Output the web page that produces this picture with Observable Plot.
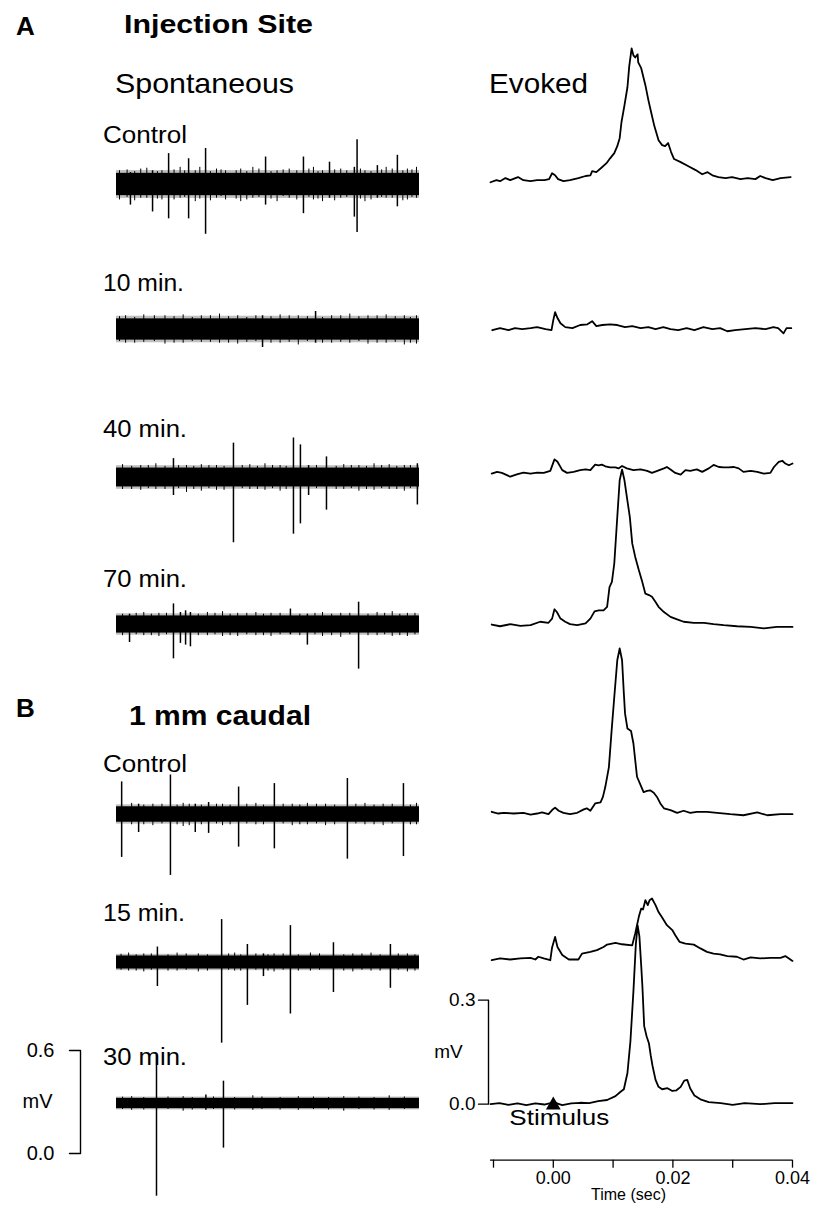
<!DOCTYPE html>
<html><head><meta charset="utf-8">
<script src="https://cdn.jsdelivr.net/npm/d3@7"></script>
<script src="https://cdn.jsdelivr.net/npm/@observablehq/plot@0.6"></script>
<style>
body{margin:0;background:#fff;}
#fig{position:relative;width:824px;height:1212px;overflow:hidden;background:#fff;font-family:"Liberation Sans",Arial,Helvetica,sans-serif;}
</style></head><body><div id="fig"></div>
<script>
// ---------------- DATA ----------------
const panelLetters = ["A", "B"];
const panelTitles = ["Injection Site", "1 mm caudal"];
const columnTitles = ["Spontaneous", "Evoked"];
const rowLabels = ["Control", "10 min.", "40 min.", "70 min.", "Control", "15 min.", "30 min."];

// spontaneous recordings: duration (s), noise half-amplitude (mV), excursions [t (s), peak (mV), trough (mV)]
const spontDuration = 10;
const spontNoise = [0.065, 0.062, 0.055, 0.05, 0.045, 0.038, 0.03];
const spontControlA = [[0.46,0.07,-0.12],[1.19,0.08,-0.16],[1.72,0.18,-0.2],[2.38,0.15,-0.2],[2.94,0.21,-0.29],[4.92,0.16,-0.12],[6.17,0.16,-0.17],[7.03,0.13,-0.08],[7.85,0.1,-0.19],[7.94,0.26,-0.28],[8.61,0.11,-0.08],[9.27,0.17,-0.13],
  [0.1,0.08,-0.09],[0.8,0.09,-0.08],[1.5,0.08,-0.09],[2.1,0.1,-0.08],[2.6,0.08,-0.1],[3.3,0.09,-0.08],[3.6,0.08,-0.09],[4.1,0.09,-0.1],[4.5,0.1,-0.08],[5.3,0.08,-0.1],[5.7,0.09,-0.08],[6.5,0.1,-0.09],[6.8,0.08,-0.1],[7.4,0.09,-0.08],[8.2,0.08,-0.1],[8.9,0.1,-0.08],[9.6,0.09,-0.09],[9.9,0.1,-0.08],
  [0.35,0.085,-0.075],[0.6,0.075,-0.095],[1.0,0.095,-0.08],[1.35,0.075,-0.085],[1.9,0.085,-0.09],[2.25,0.08,-0.075],[2.75,0.1,-0.085],[3.1,0.075,-0.095],[3.45,0.085,-0.07],[3.95,0.08,-0.085],[4.3,0.075,-0.09],[4.7,0.09,-0.075],[5.1,0.075,-0.085],[5.5,0.085,-0.07],[5.95,0.08,-0.09],[6.35,0.09,-0.075],[6.65,0.075,-0.085],[7.2,0.085,-0.095],[7.6,0.08,-0.075],[8.05,0.09,-0.085],[8.4,0.075,-0.09],[8.75,0.085,-0.075],[9.1,0.09,-0.08],[9.45,0.08,-0.095],[9.75,0.085,-0.075]];
const spont10min = [[4.82,0.08,-0.105],[6.57,0.105,-0.08],
  [0.3,0.08,-0.08],[0.9,0.085,-0.075],[1.6,0.08,-0.085],[2.2,0.085,-0.08],[2.8,0.08,-0.075],[3.4,0.09,-0.08],[4.0,0.08,-0.085],[5.4,0.085,-0.08],[6.0,0.08,-0.09],[7.1,0.08,-0.08],[7.7,0.09,-0.08],[8.3,0.08,-0.085],[8.9,0.085,-0.08],[9.5,0.08,-0.09],[9.9,0.08,-0.085],
  [0.1,0.075,-0.07],[0.6,0.07,-0.08],[1.25,0.08,-0.07],[1.9,0.075,-0.08],[2.5,0.07,-0.07],[3.1,0.08,-0.075],[3.7,0.075,-0.08],[4.3,0.07,-0.075],[4.6,0.08,-0.07],[5.1,0.075,-0.08],[5.7,0.08,-0.075],[6.3,0.075,-0.07],[6.8,0.07,-0.08],[7.4,0.08,-0.075],[8.0,0.075,-0.07],[8.6,0.08,-0.08],[9.2,0.075,-0.075],[9.7,0.07,-0.08]];
const spont40min = [[1.88,0.11,-0.105],[2.31,0.07,-0.087],[3.86,0.2,-0.38],[5.84,0.23,-0.33],[6.07,0.19,-0.27],[6.34,0.07,-0.105],[6.93,0.12,-0.19],[9.93,0.08,-0.16],
  [0.2,0.075,-0.07],[0.8,0.07,-0.075],[1.3,0.08,-0.07],[2.8,0.075,-0.08],[3.3,0.07,-0.075],[4.4,0.075,-0.07],[4.9,0.08,-0.075],[5.4,0.07,-0.08],[7.5,0.075,-0.07],[8.0,0.07,-0.08],[8.5,0.08,-0.075],[9.0,0.075,-0.07],[9.5,0.07,-0.08],
  [0.5,0.065,-0.07],[1.05,0.07,-0.065],[1.6,0.065,-0.07],[2.05,0.07,-0.065],[2.55,0.065,-0.07],[3.05,0.07,-0.065],[3.55,0.065,-0.075],[4.15,0.07,-0.065],[4.65,0.065,-0.07],[5.15,0.07,-0.065],[5.6,0.065,-0.07],[6.6,0.07,-0.065],[7.25,0.065,-0.07],[7.75,0.07,-0.065],[8.25,0.065,-0.07],[8.75,0.07,-0.065],[9.25,0.065,-0.07],[9.7,0.07,-0.065]];
const spont70min = [[0.43,0.06,-0.105],[1.88,0.12,-0.2],[2.11,0.07,-0.11],[2.28,0.08,-0.12],[2.44,0.07,-0.13],[5.74,0.09,-0.06],[6.3,0.06,-0.12],[7.99,0.13,-0.26],
  [0.9,0.07,-0.065],[1.4,0.065,-0.07],[3.0,0.07,-0.065],[3.5,0.075,-0.07],[4.0,0.065,-0.07],[4.6,0.07,-0.065],[5.1,0.065,-0.07],[6.8,0.07,-0.07],[7.4,0.065,-0.075],[8.6,0.07,-0.065],[9.1,0.075,-0.07],[9.6,0.065,-0.07],
  [0.2,0.06,-0.065],[0.65,0.065,-0.06],[1.15,0.06,-0.065],[1.65,0.065,-0.06],[2.7,0.06,-0.065],[3.25,0.065,-0.06],[3.75,0.06,-0.065],[4.3,0.065,-0.06],[4.85,0.06,-0.065],[5.4,0.065,-0.06],[6.05,0.06,-0.065],[6.55,0.065,-0.06],[7.1,0.06,-0.065],[7.7,0.065,-0.06],[8.3,0.06,-0.065],[8.85,0.065,-0.06],[9.35,0.06,-0.065],[9.85,0.065,-0.06]];
const spontControlB = [[0.17,0.19,-0.25],[0.73,0.06,-0.105],[1.78,0.23,-0.355],[2.6,0.06,-0.105],[3.04,0.07,-0.11],[4.03,0.16,-0.19],[5.21,0.18,-0.2],[7.62,0.21,-0.26],[9.47,0.18,-0.245],
  [0.5,0.065,-0.06],[1.2,0.06,-0.065],[2.2,0.065,-0.07],[3.5,0.06,-0.065],[4.6,0.065,-0.06],[5.8,0.06,-0.065],[6.3,0.065,-0.06],[6.9,0.06,-0.065],[8.2,0.065,-0.06],[8.8,0.06,-0.065],[9.9,0.065,-0.06],
  [0.9,0.055,-0.06],[1.5,0.06,-0.055],[2.0,0.055,-0.06],[2.4,0.06,-0.065],[2.8,0.055,-0.06],[3.3,0.06,-0.055],[3.75,0.055,-0.06],[4.3,0.06,-0.055],[4.85,0.055,-0.06],[5.5,0.06,-0.055],[6.05,0.055,-0.06],[6.6,0.06,-0.055],[7.2,0.055,-0.06],[7.9,0.06,-0.055],[8.5,0.055,-0.06],[9.1,0.06,-0.055],[9.7,0.055,-0.06]];
const spont15min = [[1.35,0.09,-0.14],[3.47,0.25,-0.47],[4.32,0.105,-0.25],[4.85,0.05,-0.082],[5.74,0.215,-0.3],[7.16,0.115,-0.175],[9.04,0.105,-0.15],
  [0.4,0.055,-0.05],[0.9,0.05,-0.055],[2.0,0.055,-0.05],[2.7,0.05,-0.055],[3.9,0.055,-0.05],[5.2,0.05,-0.055],[6.4,0.055,-0.05],[7.8,0.05,-0.055],[8.4,0.055,-0.05],[9.6,0.05,-0.055],
  [0.15,0.048,-0.045],[0.65,0.045,-0.05],[1.15,0.05,-0.045],[1.7,0.045,-0.05],[2.3,0.05,-0.045],[3.0,0.045,-0.05],[3.7,0.05,-0.045],[4.1,0.045,-0.05],[4.6,0.05,-0.045],[5.0,0.045,-0.05],[5.5,0.05,-0.045],[6.0,0.045,-0.05],[6.7,0.05,-0.045],[7.5,0.045,-0.05],[8.1,0.05,-0.045],[8.7,0.045,-0.05],[9.3,0.05,-0.045],[9.85,0.045,-0.05]];
const spont30min = [[1.32,0.28,-0.54],[3.53,0.13,-0.26],[2.95,0.05,-0.04],
  [0.5,0.04,-0.04],[2.2,0.04,-0.045],[4.5,0.045,-0.04],[6.0,0.04,-0.04],[7.5,0.04,-0.045],[9.0,0.045,-0.04],
  [0.2,0.037,-0.035],[0.9,0.035,-0.038],[1.7,0.038,-0.035],[2.5,0.035,-0.038],[3.2,0.038,-0.035],[3.9,0.035,-0.038],[4.8,0.038,-0.035],[5.4,0.035,-0.038],[6.5,0.038,-0.035],[7.0,0.035,-0.038],[8.0,0.038,-0.035],[8.5,0.035,-0.038],[9.5,0.038,-0.035]];
const spontSpikes = [spontControlA, spont10min, spont40min, spont70min, spontControlB, spont15min, spont30min];

// evoked responses: [time (s), mV]
const evokedControlA = [[-0.0105,-0.006],[-0.0095,0],[-0.0089,-0.003],[-0.008,0.006],[-0.0072,0],[-0.0059,0.009],[-0.005,0],[-0.0038,-0.003],[-0.0027,0],[-0.0015,0],[-0.0007,0.003],[-0.0002,0.02],[0.0003,0.014],[0.0008,0.003],[0.0017,-0.003],[0.0028,0],[0.0042,0.006],[0.0054,0.012],[0.0062,0.014],[0.0065,0.026],[0.0072,0.023],[0.008,0.035],[0.0089,0.049],[0.0095,0.063],[0.0102,0.078],[0.0107,0.098],[0.0111,0.121],[0.0114,0.167],[0.0119,0.216],[0.0124,0.268],[0.0127,0.329],[0.0131,0.38],[0.0134,0.36],[0.0137,0.354],[0.0141,0.363],[0.0142,0.34],[0.0147,0.323],[0.0154,0.274],[0.0159,0.231],[0.0164,0.193],[0.0169,0.156],[0.0176,0.115],[0.0182,0.101],[0.0187,0.098],[0.0192,0.107],[0.0197,0.081],[0.0202,0.061],[0.0213,0.052],[0.0226,0.04],[0.0238,0.029],[0.0249,0.017],[0.0258,0.023],[0.0266,0.014],[0.0276,0.009],[0.0288,0.006],[0.0299,0.009],[0.0313,0.003],[0.0325,0.006],[0.0338,0.003],[0.0346,0.012],[0.0355,0.006],[0.0367,0],[0.038,0.006],[0.0397,0.009]];
const evoked10min = [[-0.0102,-0.003],[-0.0089,0.003],[-0.0075,-0.003],[-0.0064,0.003],[-0.0052,0],[-0.0038,0.003],[-0.0027,0.006],[-0.0013,0],[-0.0003,-0.003],[0,0.026],[0.0003,0.049],[0.0007,0.032],[0.0012,0.017],[0.002,0.006],[0.0032,0.003],[0.0045,0.012],[0.0057,0.014],[0.0065,0.023],[0.0072,0.009],[0.0082,0.012],[0.0095,0.014],[0.0107,0.012],[0.012,0.006],[0.0132,0.009],[0.0146,0.003],[0.0159,0.006],[0.0171,0],[0.0184,0.006],[0.0196,0],[0.0209,-0.003],[0.0223,0.003],[0.0236,-0.003],[0.0251,0.006],[0.0266,0],[0.0279,0.003],[0.0291,-0.006],[0.0304,-0.003],[0.0321,0],[0.0338,0.003],[0.0355,0],[0.0368,0.006],[0.0376,0.003],[0.0385,-0.012],[0.039,0.003],[0.0398,0.003]];
const evoked40min = [[-0.0103,-0.007],[-0.0094,-0.002],[-0.0086,-0.005],[-0.0072,-0.016],[-0.0061,-0.009],[-0.005,-0.004],[-0.0038,-0.007],[-0.0027,-0.004],[-0.0016,-0.005],[-0.0005,0.001],[0.0002,0.034],[0.0007,0.027],[0.0015,0.003],[0.0023,-0.005],[0.0034,-0.002],[0.0045,0.003],[0.0054,0.005],[0.0062,0.003],[0.007,0.019],[0.0076,0.017],[0.0081,0.019],[0.0087,0.014],[0.0095,0.011],[0.0104,0.011],[0.0109,0.008],[0.0115,0.015],[0.0123,0.008],[0.0134,0.003],[0.0146,0.005],[0.0157,0.001],[0.0165,-0.005],[0.0174,0.001],[0.0185,0.008],[0.019,0.012],[0.0196,0.005],[0.0204,-0.005],[0.0213,-0.01],[0.0221,0.003],[0.0229,0.001],[0.024,0.005],[0.0249,-0.002],[0.026,0.008],[0.0268,0.018],[0.0277,0.012],[0.0285,0.011],[0.0293,0.011],[0.0302,0.012],[0.031,0.008],[0.0318,-0.002],[0.033,0.001],[0.0341,-0.002],[0.0352,-0.007],[0.0363,-0.005],[0.0369,0.012],[0.0377,0.027],[0.0383,0.03],[0.0388,0.022],[0.0394,0.017],[0.04,0.022]];
const evoked70min = [[-0.0103,-0.001],[-0.0089,-0.006],[-0.0072,0],[-0.0055,-0.005],[-0.0038,-0.003],[-0.0022,0.007],[-0.0008,0.004],[-0.0002,0.016],[0.0002,0.043],[0.0006,0.035],[0.0012,0.016],[0.002,0.007],[0.0028,0],[0.004,-0.003],[0.0054,0.002],[0.0062,0.016],[0.0069,0.037],[0.0076,0.04],[0.0084,0.04],[0.009,0.05],[0.0094,0.107],[0.0098,0.122],[0.0102,0.175],[0.0107,0.309],[0.0111,0.415],[0.0115,0.446],[0.0119,0.415],[0.0123,0.367],[0.0128,0.309],[0.0132,0.233],[0.0137,0.194],[0.0143,0.156],[0.0148,0.127],[0.0154,0.088],[0.016,0.084],[0.0165,0.079],[0.0171,0.064],[0.0176,0.05],[0.0185,0.035],[0.0196,0.021],[0.0207,0.014],[0.0218,0.007],[0.0235,0.004],[0.0252,0.004],[0.0268,0],[0.0285,-0.003],[0.0307,-0.006],[0.033,-0.008],[0.0352,-0.012],[0.0374,-0.008],[0.04,-0.008]];
const evokedControlB = [[-0.0103,0.004],[-0.0092,-0.001],[-0.0083,0.001],[-0.0066,-0.001],[-0.005,0.001],[-0.0038,-0.004],[-0.0027,-0.001],[-0.0019,0.002],[-0.0008,-0.003],[-0.0002,0.009],[0.0003,0.016],[0.0009,0.007],[0.0017,0.001],[0.0028,-0.003],[0.004,0.001],[0.0051,0.011],[0.0056,0.014],[0.0062,0.007],[0.007,0.028],[0.0079,0.031],[0.0083,0.047],[0.0087,0.076],[0.0093,0.133],[0.0098,0.249],[0.0102,0.335],[0.0107,0.441],[0.0111,0.475],[0.0115,0.441],[0.0118,0.345],[0.012,0.287],[0.0124,0.244],[0.013,0.237],[0.0134,0.201],[0.014,0.105],[0.0146,0.081],[0.0151,0.061],[0.0157,0.064],[0.0162,0.066],[0.0168,0.059],[0.0174,0.045],[0.0179,0.028],[0.0185,0.014],[0.0196,0.009],[0.0207,0.001],[0.0218,0.007],[0.0229,0.001],[0.024,0.004],[0.0257,0.004],[0.0274,0.001],[0.0296,-0.003],[0.0318,-0.006],[0.0341,0.002],[0.0358,-0.006],[0.038,-0.003],[0.04,-0.003]];
const evoked15min = [[-0.0103,-0.003],[-0.0089,0.002],[-0.0072,-0.001],[-0.0055,0.002],[-0.0038,0.004],[-0.003,-0.001],[-0.0025,0.007],[-0.0016,0.002],[-0.0005,-0.003],[-0.0002,0.034],[0.0003,0.064],[0.0007,0.035],[0.0015,0.012],[0.0026,-0.001],[0.0042,-0.001],[0.0048,0.016],[0.0062,0.021],[0.0073,0.026],[0.0084,0.035],[0.009,0.042],[0.0104,0.047],[0.0115,0.043],[0.0132,0.04],[0.0137,0.074],[0.0143,0.122],[0.0147,0.146],[0.015,0.143],[0.0154,0.17],[0.0158,0.156],[0.0161,0.17],[0.0165,0.175],[0.0171,0.156],[0.0176,0.136],[0.0182,0.12],[0.019,0.098],[0.0199,0.084],[0.0204,0.069],[0.0211,0.05],[0.0221,0.045],[0.0235,0.042],[0.0246,0.031],[0.0257,0.021],[0.0268,0.016],[0.0279,0.014],[0.0291,0.009],[0.0307,0.007],[0.0318,-0.001],[0.033,0.005],[0.0346,0.002],[0.0363,0.004],[0.038,0.004],[0.0388,0.009],[0.04,-0.005]];
const evoked30min = [[-0.0105,0],[-0.009,0.003],[-0.0075,-0.002],[-0.006,0.002],[-0.0045,-0.003],[-0.003,0.002],[-0.0015,-0.001],[-0.0005,0.003],[0,0.01],[0.0006,0.002],[0.0015,-0.003],[0.003,0.002],[0.0045,0.004],[0.006,0.003],[0.0075,0.009],[0.009,0.012],[0.0104,0.023],[0.0112,0.035],[0.0118,0.043],[0.0124,0.09],[0.0129,0.182],[0.0134,0.326],[0.0138,0.46],[0.0141,0.516],[0.0144,0.484],[0.0147,0.4],[0.0149,0.34],[0.0152,0.225],[0.0156,0.196],[0.016,0.175],[0.0163,0.14],[0.0166,0.11],[0.0171,0.07],[0.0176,0.05],[0.0182,0.043],[0.0191,0.046],[0.0199,0.038],[0.0206,0.04],[0.0213,0.05],[0.0219,0.068],[0.0224,0.07],[0.0229,0.045],[0.0236,0.025],[0.0246,0.014],[0.026,0.006],[0.028,0.003],[0.03,-0.002],[0.032,0.003],[0.0346,0],[0.037,0.003],[0.04,0.003]];
const evokedTraces = [evokedControlA, evoked10min, evoked40min, evoked70min, evokedControlB, evoked15min, evoked30min];

const evokedTimeDomain = [-0.0105, 0.04];
const evokedTimeTicks = [-0.01, 0, 0.01, 0.02, 0.03, 0.04];
const evokedTimeLabels = [0, 0.02, 0.04];
const evokedMvTicks = [0, 0.3];
const spontMvTicks = [0, 0.6];
const stimulusTime = 0;

// ---------------- LAYOUT ----------------
const FONT = '"Liberation Sans", Arial, Helvetica, sans-serif';
const PXE = 104 / 0.3;   // px per mV, evoked
const PXS = 103 / 0.6;   // px per mV, spontaneous
const EW = 302;          // evoked trace width (px)
const PXT = EW / (evokedTimeDomain[1] - evokedTimeDomain[0]); // px per second
const spontRows = [184, 329, 477, 624, 814, 962, 1103];
const evokedRows = [180, 329, 471, 624, 813, 959, 1104];
const fig = document.getElementById("fig");
const baseStyle = {background: "transparent", overflow: "visible", fontFamily: FONT, color: "black"};
function place(el, left, top) {
  el.style.position = "absolute";
  el.style.left = left + "px";
  el.style.top = top + "px";
  fig.appendChild(el);
}
// bracket-shaped scale bar path: tick at top, vertical bar, tick at bottom
function bracket(ticks, xBar, xTick) {
  return [[xTick, ticks[1]], [xBar, ticks[1]], [xBar, ticks[0]], [xTick, ticks[0]]];
}

// spontaneous traces
spontSpikes.forEach((spikes, i) => {
  const ymax = 0.6, ymin = -0.6, w = spontNoise[i];
  const p = Plot.plot({
    width: 303, height: (ymax - ymin) * PXS, margin: 0,
    x: {domain: [0, spontDuration], axis: null},
    y: {domain: [ymin, ymax], axis: null},
    style: baseStyle,
    marks: [
      Plot.rect([w], {x1: 0, x2: spontDuration, y1: d => -1.25 * d, y2: d => 1.25 * d, fill: "black", fillOpacity: 0.25}),
      Plot.rect([w], {x1: 0, x2: spontDuration, y1: d => -d, y2: d => d, fill: "black"}),
      Plot.ruleX(spikes, {x: d => d[0], y1: d => d[2], y2: d => d[1], stroke: "black",
        strokeWidth: d => (d[1] > 1.6 * w || -d[2] > 1.6 * w) ? 1.5 : 1})
    ]
  });
  place(p, 116, spontRows[i] - ymax * PXS);
});

// evoked traces (all but the last)
evokedTraces.slice(0, 6).forEach((tr, i) => {
  const ymax = 0.55, ymin = -0.05;
  const p = Plot.plot({
    width: EW, height: (ymax - ymin) * PXE, margin: 0,
    x: {domain: evokedTimeDomain, axis: null},
    y: {domain: [ymin, ymax], axis: null},
    style: baseStyle,
    marks: [
      Plot.line(tr, {x: d => d[0], y: d => d[1], stroke: "black", strokeWidth: 1.8, strokeLinejoin: "round"})
    ]
  });
  place(p, 490, evokedRows[i] - ymax * PXE);
});

// last evoked trace with axes and stimulus marker
{
  const ymax = 0.55, ymin = -56 / PXE;
  const mL = 60, mB = 50, mR = 30;
  const x0 = evokedTimeDomain[0];
  const p = Plot.plot({
    width: EW + mL + mR, height: (ymax - ymin) * PXE + mB,
    marginLeft: mL, marginRight: mR, marginTop: 0, marginBottom: mB,
    x: {type: "linear", domain: evokedTimeDomain},
    y: {type: "linear", domain: [ymin, ymax]},
    style: baseStyle,
    marks: [
      Plot.line(evokedTraces[6], {x: d => d[0], y: d => d[1], stroke: "black", strokeWidth: 1.8, strokeLinejoin: "round"}),
      Plot.ruleY([ymin], {stroke: "black", strokeWidth: 1.3}),
      Plot.axisX({ticks: evokedTimeTicks, tickSize: 8, tickPadding: 3, fontSize: 18, label: null, strokeWidth: 1.3,
        tickFormat: d => evokedTimeLabels.includes(d) ? d3.format(".2f")(d) : ""}),
      Plot.text(["Time (sec)"], {frameAnchor: "bottom", dy: 40, dx: -13, fontSize: 16}),
      Plot.line(bracket(evokedMvTicks, x0, x0 - 10 / PXT), {x: d => d[0], y: d => d[1], dx: -2, stroke: "black", strokeWidth: 1.4}),
      Plot.axisY({ticks: evokedMvTicks, tickSize: 0, tickPadding: 15, fontSize: 19, label: null, tickFormat: d3.format(".1f")}),
      Plot.text(["mV"], {x: x0, y: (evokedMvTicks[0] + evokedMvTicks[1]) / 2, dx: -42, fontSize: 19}),
      Plot.dot([stimulusTime], {x: d => d, y: 0, dy: 1, symbol: "triangle", r: 5.5, fill: "black", stroke: "none"}),
      Plot.text(["Stimulus"], {x: stimulusTime, y: 0, dy: 14, dx: 6, fontSize: 22})
    ]
  });
  d3.select(p).selectAll("text").filter(function() { return this.textContent === "Stimulus"; })
    .attr("textLength", 100).attr("lengthAdjust", "spacingAndGlyphs");
  place(p, 490 - mL, evokedRows[6] - ymax * PXE);
}

// spontaneous scale bar
{
  const mL = 70, mT = 12, mB = 12;
  const p = Plot.plot({
    width: 91, height: 0.6 * PXS + mT + mB,
    marginLeft: mL, marginRight: 10, marginTop: mT, marginBottom: mB,
    x: {type: "linear", domain: [0, 1], axis: null},
    y: {type: "linear", domain: [spontMvTicks[0], spontMvTicks[1]]},
    style: baseStyle,
    marks: [
      Plot.line(bracket(spontMvTicks, 1, 0), {x: d => d[0], y: d => d[1], stroke: "black", strokeWidth: 1.4}),
      Plot.axisY({ticks: spontMvTicks, tickSize: 0, tickPadding: 15, fontSize: 20, label: null, tickFormat: d3.format(".1f")}),
      Plot.text(["mV"], {x: 1, y: (spontMvTicks[0] + spontMvTicks[1]) / 2, dx: -43, fontSize: 20})
    ]
  });
  place(p, 69 - mL, 1050 - mT);
}

// ---------------- TEXT LABELS ----------------
const ov = d3.create("svg").attr("width", 824).attr("height", 1212)
  .style("position", "absolute").style("left", "0px").style("top", "0px").style("overflow", "visible");
function label(txt, x, y, size, weight, width) {
  const t = ov.append("text").attr("x", x).attr("y", y).attr("font-size", size)
    .attr("font-weight", weight).attr("font-family", FONT).attr("fill", "black").text(txt);
  if (width) t.attr("textLength", width).attr("lengthAdjust", "spacingAndGlyphs");
}
label(panelLetters[0], 16, 35, 26, "bold");
label(panelLetters[1], 16, 717, 26, "bold");
label(panelTitles[0], 124, 33, 26, "bold", 189);
label(panelTitles[1], 129, 725, 28, "bold", 182);
label(columnTitles[0], 115, 93, 28, "normal", 179);
label(columnTitles[1], 489, 93, 28, "normal", 99);
const rowLabelY = [143, 291, 437, 587, 772, 921, 1065];
const rowLabelW = [84, 81, 84, 84, 84, 82, 84];
rowLabels.forEach((r, i) => label(r, 103, rowLabelY[i], 23.5, "normal", rowLabelW[i]));
fig.appendChild(ov.node());
</script></body></html>
